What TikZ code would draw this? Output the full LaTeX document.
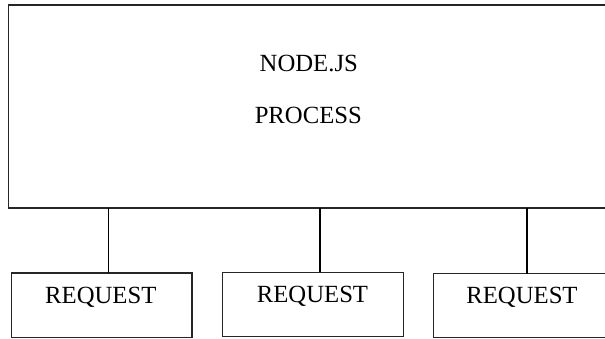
\documentclass[tikz,border=0pt]{standalone}
\usepackage{fontspec}
\setmainfont{Liberation Serif}
\tikzset{
  boxshape/.style={draw=black!85, line width=1.2pt, rectangle, inner sep=0pt, outer sep=0pt},
  lbl/.style={anchor=base, inner sep=0pt, font=\fontsize{24.7}{29}\selectfont, text=black},
  conn/.style={draw=black, line width=1.8pt}
}
\begin{document}
\begin{tikzpicture}[x=1pt,y=-1pt]
\useasboundingbox (0,0) rectangle (605,339);
\clip (0,0) rectangle (605,339);
\fill[white] (0,0) rectangle (605,339);
% big process box
\node[boxshape, minimum width=598.5pt, minimum height=203pt] (proc) at (307.75,106.5) {};
\node[lbl] (t1) at (308.8,71.7) {NODE.JS};
\node[lbl] (t2) at (308.3,123.3) {PROCESS};
% request boxes
\node[boxshape, minimum width=180.3pt, minimum height=64.7pt] (r1) at (101.85,305.35) {};
\node[boxshape, minimum width=181pt, minimum height=64.4pt] (r2) at (313.2,304.5) {};
\node[boxshape, minimum width=173.7pt, minimum height=64.2pt] (r3) at (520.15,305.6) {};
\node[lbl] (q1) at (100.8,303.3) {REQUEST};
\node[lbl] (q2) at (312.5,302.7) {REQUEST};
\node[lbl] (q3) at (522,303.3) {REQUEST};
% connectors
\coordinate (c1) at (108.5,208);
\coordinate (c2) at (320,208);
\coordinate (c3) at (526.7,208);
\draw[conn] (c1) -- (c1 |- r1.north);
\draw[conn] (c2) -- (c2 |- r2.north);
\draw[conn] (c3) -- (c3 |- r3.north);
\end{tikzpicture}
\end{document}
